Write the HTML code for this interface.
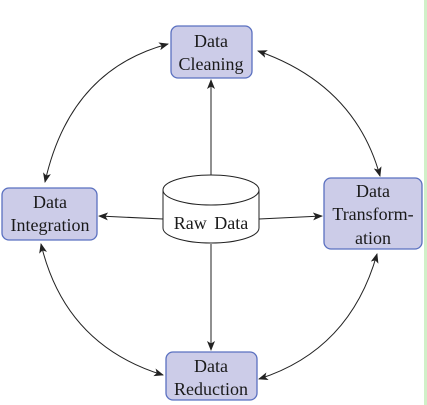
<!DOCTYPE html>
<html><head><style>
body{margin:0;width:427px;height:405px;background:#fff;overflow:hidden;position:relative}
svg{position:absolute;left:0;top:0}
</style></head><body>
<svg width="427" height="405" viewBox="0 0 427 405">
<defs><marker id="a" markerWidth="10" markerHeight="8" refX="9" refY="4" orient="auto-start-reverse" markerUnits="userSpaceOnUse"><path d="M0,0 L10,4 L0,8 L2.5,4 Z" fill="#222"/></marker></defs>
<rect x="424" y="0" width="3" height="405" fill="#d0f0c8"/>
<g fill="#cccce8" stroke="#5a70c0" stroke-width="1.3">
<rect x="171" y="26" width="81" height="52" rx="7"/>
<rect x="324" y="178" width="98" height="71" rx="7"/>
<rect x="2" y="188" width="95" height="52" rx="7"/>
<rect x="166" y="352" width="91" height="48" rx="7"/>
</g>
<g fill="#fff" stroke="#222" stroke-width="1">
<path d="M163,190 L163,228 A48,15 0 0 0 259,228 L259,190"/>
<ellipse cx="211" cy="190" rx="48" ry="15"/>
</g>
<g stroke="#222" stroke-width="1" fill="none">
<line x1="211" y1="175" x2="211" y2="80" marker-end="url(#a)"/>
<line x1="163" y1="219" x2="99" y2="216" marker-end="url(#a)"/>
<line x1="259" y1="219" x2="322" y2="216" marker-end="url(#a)"/>
<line x1="211" y1="244" x2="211" y2="350" marker-end="url(#a)"/>
<path d="M45,182 Q70,70 168,44" marker-start="url(#a)" marker-end="url(#a)"/>
<path d="M258,51 Q355,85 380,176" marker-start="url(#a)" marker-end="url(#a)"/>
<path d="M377,254 Q350,350 259,379" marker-start="url(#a)" marker-end="url(#a)"/>
<path d="M41,244 Q65,345 163,375" marker-start="url(#a)" marker-end="url(#a)"/>
</g>
<g font-family="'Liberation Serif', 'DejaVu Serif', serif" font-size="18" fill="#1a1a1a" text-anchor="middle">
<text x="211" y="47">Data</text>
<text x="211" y="70">Cleaning</text>
<text x="373" y="197">Data</text>
<text x="373" y="220">Transform-</text>
<text x="373" y="244">ation</text>
<text x="50" y="208">Data</text>
<text x="50" y="231">Integration</text>
<text x="211" y="372">Data</text>
<text x="211" y="395">Reduction</text>
<text x="211" y="229" word-spacing="3">Raw Data</text>
</g>
</svg>
</body></html>
